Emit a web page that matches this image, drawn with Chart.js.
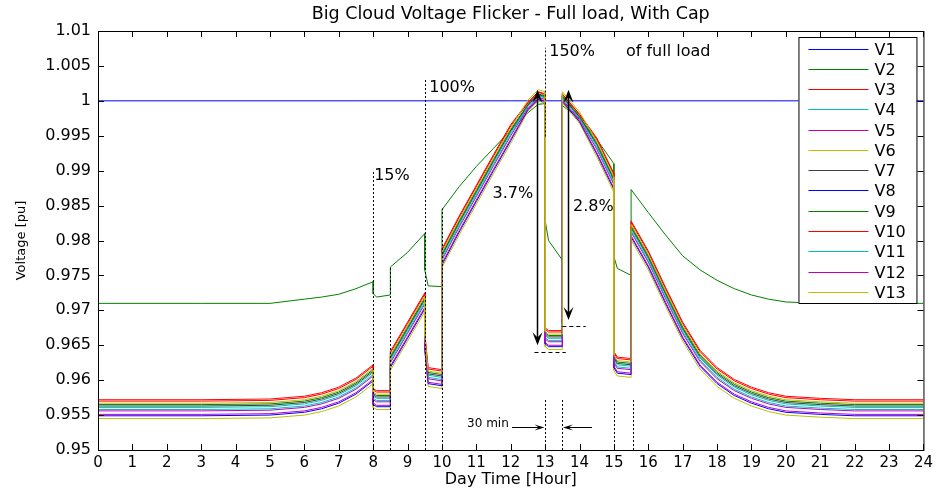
<!DOCTYPE html>
<html>
<head>
<meta charset="utf-8">
<title>Big Cloud Voltage Flicker</title>
<script src="https://cdn.jsdelivr.net/npm/chart.js@4.4.1/dist/chart.umd.min.js"></script>
<style>
  html, body { margin: 0; padding: 0; background: #fff; }
  #wrap { width: 937px; height: 492px; }
</style>
</head>
<body>
<div id="wrap"><canvas id="flicker" width="937" height="492"></canvas></div>
<script>
// hours shared by V2..V13 (a repeated hour is a step at a cloud edge)
const hours = [
  0, 3, 5, 6, 6.5, 7, 7.5, 8,
  8, 8.1, 8.5, 8.5, 9, 9.5, 9.5, 9.6,
  10, 10, 10.5, 11, 11.5, 12, 12.5, 12.8,
  13, 13, 13.1, 13.5, 13.5, 14, 14.5, 15,
  15, 15.1, 15.5, 15.5, 16, 16.5, 17, 17.5,
  18, 18.5, 19, 19.5, 20, 21, 22, 24
];

// V1 is the source bus, flat at 1 pu
const v1Hours = [0, 24];
const v1 = [1.0, 1.0];

const v2 = [
  0.9710, 0.9710, 0.9710, 0.9716, 0.9719, 0.9723, 0.9731, 0.9741,
  0.9724, 0.9719, 0.9722, 0.9762, 0.9783, 0.9810, 0.9758, 0.9735,
  0.9734, 0.9844, 0.9877, 0.9906, 0.9932, 0.9958, 0.9983, 0.9995,
  0.9996, 0.9829, 0.9800, 0.9772, 0.9993, 0.9975, 0.9945, 0.9910,
  0.9777, 0.9760, 0.9750, 0.9873, 0.9840, 0.9808, 0.9778, 0.9758,
  0.9743, 0.9731, 0.9722, 0.9716, 0.9712, 0.9710, 0.9710, 0.9710
];
const v3 = [
  0.9572, 0.9572, 0.9573, 0.9577, 0.9582, 0.9590, 0.9603, 0.9622,
  0.9588, 0.9585, 0.9585, 0.9641, 0.9683, 0.9725, 0.9668, 0.9618,
  0.9615, 0.9788, 0.9835, 0.9879, 0.9923, 0.9966, 0.9998, 1.0013,
  1.0010, 0.9675, 0.9671, 0.9671, 1.0010, 0.9981, 0.9947, 0.9896,
  0.9641, 0.9633, 0.9631, 0.9828, 0.9785, 0.9733, 0.9683, 0.9643,
  0.9618, 0.9601, 0.9590, 0.9582, 0.9577, 0.9574, 0.9572, 0.9572
];
const v4 = [
  0.9561, 0.9561, 0.9562, 0.9566, 0.9571, 0.9579, 0.9592, 0.9611,
  0.9577, 0.9574, 0.9574, 0.9630, 0.9672, 0.9714, 0.9657, 0.9607,
  0.9604, 0.9777, 0.9824, 0.9868, 0.9912, 0.9955, 0.9993, 1.0008,
  1.0005, 0.9664, 0.9660, 0.9660, 1.0005, 0.9976, 0.9936, 0.9885,
  0.9630, 0.9622, 0.9620, 0.9817, 0.9774, 0.9722, 0.9672, 0.9632,
  0.9607, 0.9590, 0.9579, 0.9571, 0.9566, 0.9563, 0.9561, 0.9561
];
const v5 = [
  0.9556, 0.9556, 0.9557, 0.9561, 0.9566, 0.9574, 0.9587, 0.9606,
  0.9572, 0.9569, 0.9569, 0.9625, 0.9667, 0.9709, 0.9652, 0.9602,
  0.9599, 0.9772, 0.9819, 0.9863, 0.9907, 0.9950, 0.9990, 1.0005,
  1.0002, 0.9659, 0.9655, 0.9655, 1.0002, 0.9973, 0.9931, 0.9880,
  0.9625, 0.9617, 0.9615, 0.9812, 0.9769, 0.9717, 0.9667, 0.9627,
  0.9602, 0.9585, 0.9574, 0.9566, 0.9561, 0.9558, 0.9556, 0.9556
];
const v6 = [
  0.9545, 0.9545, 0.9546, 0.9550, 0.9555, 0.9563, 0.9576, 0.9595,
  0.9561, 0.9558, 0.9558, 0.9614, 0.9656, 0.9698, 0.9641, 0.9591,
  0.9588, 0.9761, 0.9808, 0.9852, 0.9896, 0.9939, 0.9985, 1.0000,
  0.9997, 0.9648, 0.9644, 0.9644, 0.9997, 0.9968, 0.9920, 0.9869,
  0.9614, 0.9606, 0.9604, 0.9801, 0.9758, 0.9706, 0.9656, 0.9616,
  0.9591, 0.9574, 0.9563, 0.9555, 0.9550, 0.9547, 0.9545, 0.9545
];
const v7 = [
  0.9563, 0.9563, 0.9564, 0.9568, 0.9573, 0.9581, 0.9594, 0.9613,
  0.9579, 0.9576, 0.9576, 0.9632, 0.9674, 0.9716, 0.9659, 0.9609,
  0.9606, 0.9779, 0.9826, 0.9870, 0.9914, 0.9957, 0.9994, 1.0009,
  1.0006, 0.9666, 0.9662, 0.9662, 1.0006, 0.9977, 0.9938, 0.9887,
  0.9632, 0.9624, 0.9622, 0.9819, 0.9776, 0.9724, 0.9674, 0.9634,
  0.9609, 0.9592, 0.9581, 0.9573, 0.9568, 0.9565, 0.9563, 0.9563
];
const v8 = [
  0.9549, 0.9549, 0.9550, 0.9554, 0.9559, 0.9567, 0.9580, 0.9599,
  0.9565, 0.9562, 0.9562, 0.9618, 0.9660, 0.9702, 0.9645, 0.9595,
  0.9592, 0.9765, 0.9812, 0.9856, 0.9900, 0.9943, 0.9987, 1.0002,
  0.9999, 0.9652, 0.9648, 0.9648, 0.9999, 0.9970, 0.9924, 0.9873,
  0.9618, 0.9610, 0.9608, 0.9805, 0.9762, 0.9710, 0.9660, 0.9620,
  0.9595, 0.9578, 0.9567, 0.9559, 0.9554, 0.9551, 0.9549, 0.9549
];
const v9 = [
  0.9565, 0.9565, 0.9566, 0.9570, 0.9575, 0.9583, 0.9596, 0.9615,
  0.9581, 0.9578, 0.9578, 0.9634, 0.9676, 0.9718, 0.9661, 0.9611,
  0.9608, 0.9781, 0.9828, 0.9872, 0.9916, 0.9959, 0.9995, 1.0010,
  1.0007, 0.9668, 0.9664, 0.9664, 1.0007, 0.9978, 0.9940, 0.9889,
  0.9634, 0.9626, 0.9624, 0.9821, 0.9778, 0.9726, 0.9676, 0.9636,
  0.9611, 0.9594, 0.9583, 0.9575, 0.9570, 0.9567, 0.9565, 0.9565
];
const v10 = [
  0.9570, 0.9570, 0.9571, 0.9575, 0.9580, 0.9588, 0.9601, 0.9620,
  0.9586, 0.9583, 0.9583, 0.9639, 0.9681, 0.9723, 0.9666, 0.9616,
  0.9613, 0.9786, 0.9833, 0.9877, 0.9921, 0.9964, 0.9997, 1.0012,
  1.0009, 0.9673, 0.9669, 0.9669, 1.0009, 0.9980, 0.9945, 0.9894,
  0.9639, 0.9631, 0.9629, 0.9826, 0.9783, 0.9731, 0.9681, 0.9641,
  0.9616, 0.9599, 0.9588, 0.9580, 0.9575, 0.9572, 0.9570, 0.9570
];
const v11 = [
  0.9558, 0.9558, 0.9559, 0.9563, 0.9568, 0.9576, 0.9589, 0.9608,
  0.9574, 0.9571, 0.9571, 0.9627, 0.9669, 0.9711, 0.9654, 0.9604,
  0.9601, 0.9774, 0.9821, 0.9865, 0.9909, 0.9952, 0.9992, 1.0007,
  1.0004, 0.9661, 0.9657, 0.9657, 1.0004, 0.9975, 0.9933, 0.9882,
  0.9627, 0.9619, 0.9617, 0.9814, 0.9771, 0.9719, 0.9669, 0.9629,
  0.9604, 0.9587, 0.9576, 0.9568, 0.9563, 0.9560, 0.9558, 0.9558
];
const v12 = [
  0.9551, 0.9551, 0.9552, 0.9556, 0.9561, 0.9569, 0.9582, 0.9601,
  0.9567, 0.9564, 0.9564, 0.9620, 0.9662, 0.9704, 0.9647, 0.9597,
  0.9594, 0.9767, 0.9814, 0.9858, 0.9902, 0.9945, 0.9988, 1.0003,
  1.0000, 0.9654, 0.9650, 0.9650, 1.0000, 0.9971, 0.9926, 0.9875,
  0.9620, 0.9612, 0.9610, 0.9807, 0.9764, 0.9712, 0.9662, 0.9622,
  0.9597, 0.9580, 0.9569, 0.9561, 0.9556, 0.9553, 0.9551, 0.9551
];
const v13 = [
  0.9567, 0.9567, 0.9568, 0.9572, 0.9577, 0.9585, 0.9598, 0.9617,
  0.9583, 0.9580, 0.9580, 0.9636, 0.9678, 0.9720, 0.9663, 0.9613,
  0.9610, 0.9783, 0.9830, 0.9874, 0.9918, 0.9961, 1.0001, 1.0016,
  1.0013, 0.9670, 0.9666, 0.9666, 1.0013, 0.9984, 0.9942, 0.9891,
  0.9636, 0.9628, 0.9626, 0.9823, 0.9780, 0.9728, 0.9678, 0.9638,
  0.9613, 0.9596, 0.9585, 0.9577, 0.9572, 0.9569, 0.9567, 0.9567
];

const seriesNames = ['V1', 'V2', 'V3', 'V4', 'V5', 'V6', 'V7', 'V8', 'V9', 'V10', 'V11', 'V12', 'V13'];
const seriesValues = [v1, v2, v3, v4, v5, v6, v7, v8, v9, v10, v11, v12, v13];
// old matlab colour order, repeating after seven lines
const seriesColors = ['#0000ff', '#008000', '#ff0000', '#00bfbf', '#bf00bf', '#bfbf00', '#404040',
                      '#0000ff', '#008000', '#ff0000', '#00bfbf', '#bf00bf', '#bfbf00'];

const xTickLabels = ['0', '1', '2', '3', '4', '5', '6', '7', '8', '9', '10', '11', '12',
                     '13', '14', '15', '16', '17', '18', '19', '20', '21', '22', '23', '24'];
const yTickLabels = ['0.95', '0.955', '0.96', '0.965', '0.97', '0.975', '0.98',
                     '0.985', '0.99', '0.995', '1', '1.005', '1.01'];

const chartTitle = 'Big Cloud Voltage Flicker - Full load, With Cap';

// annotations, in data units
const cloudEdges = [
  { x: 8, from: 0.95, to: 0.9900 },
  { x: 8.5, from: 0.95, to: 0.9762 },
  { x: 9.5, from: 0.95, to: 1.0030 },
  { x: 10, from: 0.95, to: 0.9846 },
  { x: 13, from: 0.9949, to: 1.0076 },
  { x: 13, from: 0.95, to: 0.9572 },
  { x: 13.5, from: 0.95, to: 0.9572 },
  { x: 15, from: 0.95, to: 0.9572 },
  { x: 15.55, from: 0.95, to: 0.9572 }
];
const dropLevels = [
  { y: 0.9641, from: 12.69, to: 13.6 },
  { y: 0.9677, from: 13.5, to: 14.18 }
];
const dropArrows = [
  { x: 12.77, from: 0.9650, to: 1.0016 },
  { x: 13.67, from: 0.9686, to: 1.0016 }
];
const spanArrows = [
  { y: 0.9533, from: 12.04, to: 12.98 },
  { y: 0.9533, from: 14.36, to: 13.52 }
];
const notes = [
  { text: '15%', x: 8.03, y: 0.9892, size: 16 },
  { text: '100%', x: 9.63, y: 1.0018, size: 16 },
  { text: '150%', x: 13.12, y: 1.0070, size: 16 },
  { text: 'of full load', x: 15.35, y: 1.0070, size: 16 },
  { text: '3.7%', x: 11.47, y: 0.9867, size: 16 },
  { text: '2.8%', x: 13.81, y: 0.9848, size: 16 },
  { text: '30 min', x: 10.73, y: 0.9537, size: 12 }
];

const FONT = "'DejaVu Sans', sans-serif";

function head(ctx, x, y, dx, dy, len, half) {
    // filled arrow head with its tip at (x, y), pointing along (dx, dy)
    const bx = x - dx * len, by = y - dy * len;
    const nx = -dy, ny = dx;
    ctx.beginPath();
    ctx.moveTo(x, y);
    ctx.lineTo(bx + nx * half - dx * 2, by + ny * half - dy * 2);
    ctx.lineTo(x - dx * len * 0.7, y - dy * len * 0.7);
    ctx.lineTo(bx - nx * half - dx * 2, by - ny * half - dy * 2);
    ctx.closePath();
    ctx.fill();
}

const matlabAxes = {
    id: 'matlabAxes',
    afterDraw(chart) {
        const { ctx, chartArea: a } = chart;
        const xs = chart.scales.x, ys = chart.scales.y;
        ctx.save();
        ctx.strokeStyle = '#000';
        ctx.fillStyle = '#000';

        // title, centred over the axes rather than the canvas
        ctx.font = '17.5px ' + FONT;
        ctx.textAlign = 'center';
        ctx.textBaseline = 'middle';
        ctx.fillText(chartTitle, (a.left + a.right) / 2, 14);

        // dotted cloud start / end markers
        ctx.lineWidth = 1;
        ctx.setLineDash([2, 2]);
        cloudEdges.forEach(m => {
            const px = Math.round(xs.getPixelForValue(m.x)) + 0.5;
            ctx.beginPath();
            ctx.moveTo(px, ys.getPixelForValue(m.from));
            ctx.lineTo(px, ys.getPixelForValue(m.to));
            ctx.stroke();
        });
        ctx.setLineDash([4, 3]);
        dropLevels.forEach(m => {
            const py = Math.round(ys.getPixelForValue(m.y)) + 0.5;
            ctx.beginPath();
            ctx.moveTo(xs.getPixelForValue(m.from), py);
            ctx.lineTo(xs.getPixelForValue(m.to), py);
            ctx.stroke();
        });
        ctx.setLineDash([]);

        // voltage drop arrows
        ctx.lineWidth = 1.5;
        dropArrows.forEach(m => {
            const px = Math.round(xs.getPixelForValue(m.x)) + 0.5;
            const y0 = ys.getPixelForValue(m.from), y1 = ys.getPixelForValue(m.to);
            ctx.beginPath();
            ctx.moveTo(px, y0 - 6);
            ctx.lineTo(px, y1 + 6);
            ctx.stroke();
            head(ctx, px, y0, 0, 1, 11, 5);
            head(ctx, px, y1, 0, -1, 11, 5);
        });

        // 30 min arrows
        ctx.lineWidth = 1;
        spanArrows.forEach(m => {
            const py = Math.round(ys.getPixelForValue(m.y)) + 0.5;
            const x0 = xs.getPixelForValue(m.from), x1 = xs.getPixelForValue(m.to);
            const dir = x1 > x0 ? 1 : -1;
            ctx.beginPath();
            ctx.moveTo(x0, py);
            ctx.lineTo(x1 - dir * 4, py);
            ctx.stroke();
            head(ctx, x1, py, dir, 0, 8, 3);
        });

        ctx.textBaseline = 'middle';
        ctx.textAlign = 'left';
        notes.forEach(n => {
            ctx.font = n.size + 'px ' + FONT;
            ctx.fillText(n.text, xs.getPixelForValue(n.x), ys.getPixelForValue(n.y));
        });

        // box with inward ticks on all four sides
        ctx.lineWidth = 1;
        ctx.strokeRect(a.left + 0.5, a.top + 0.5, a.right - a.left, a.bottom - a.top);
        ctx.beginPath();
        xs.ticks.forEach(t => {
            const px = Math.round(xs.getPixelForValue(t.value)) + 0.5;
            ctx.moveTo(px, a.bottom); ctx.lineTo(px, a.bottom - 6);
            ctx.moveTo(px, a.top); ctx.lineTo(px, a.top + 6);
        });
        ys.ticks.forEach(t => {
            const py = Math.round(ys.getPixelForValue(t.value)) + 0.5;
            ctx.moveTo(a.left, py); ctx.lineTo(a.left + 6, py);
            ctx.moveTo(a.right, py); ctx.lineTo(a.right - 6, py);
        });
        ctx.stroke();

        // legend box inside the top right corner
        const lx = a.right - 125, ly = a.top + 6, lw = 118, lh = 266;
        ctx.fillStyle = '#fff';
        ctx.fillRect(lx, ly, lw, lh);
        ctx.strokeStyle = '#000';
        ctx.strokeRect(lx + 0.5, ly + 0.5, lw, lh);
        ctx.font = '16px ' + FONT;
        seriesNames.forEach((name, i) => {
            const ry = Math.round(ly + 11.5 + i * 20.28) + 0.5;
            ctx.strokeStyle = seriesColors[i];
            ctx.lineWidth = 1;
            ctx.beginPath();
            ctx.moveTo(lx + 10, ry);
            ctx.lineTo(lx + 70, ry);
            ctx.stroke();
            ctx.fillStyle = '#000';
            ctx.fillText(name, lx + 76, ry + 1);
        });
        ctx.restore();
    }
};

const datasets = seriesNames.map((name, i) => {
    const xs = i === 0 ? v1Hours : hours;
    return {
        label: name,
        data: xs.map((h, k) => ({ x: h, y: seriesValues[i][k] })),
        borderColor: seriesColors[i],
        backgroundColor: seriesColors[i],
        borderWidth: 1,
        pointRadius: 0,
        tension: 0,
        // later buses drawn on top, like matlab
        order: seriesNames.length - 1 - i
    };
});

new Chart(document.getElementById('flicker'), {
    type: 'line',
    data: { datasets },
    options: {
        responsive: false,
        animation: false,
        events: [],
        layout: { padding: { left: 0, right: 12, top: 31, bottom: 0 } },
        plugins: {
            legend: { display: false },
            tooltip: { enabled: false },
            title: { display: false }
        },
        scales: {
            x: {
                type: 'linear',
                min: 0,
                max: 24,
                afterFit: s => { s.height = 42; },
                grid: { display: false, drawTicks: false },
                border: { display: false },
                ticks: {
                    stepSize: 1,
                    autoSkip: false,
                    maxRotation: 0,
                    padding: 4,
                    color: '#000',
                    font: { family: FONT, size: 15 },
                    callback: (v, i) => xTickLabels[i]
                },
                title: {
                    display: true,
                    text: 'Day Time [Hour]',
                    color: '#000',
                    font: { family: FONT, size: 16 },
                    padding: { top: 0, bottom: 2.4 }
                }
            },
            y: {
                type: 'linear',
                min: 0.95,
                max: 1.01,
                afterFit: s => { s.width = 98; },
                grid: { display: false, drawTicks: false },
                border: { display: false },
                ticks: {
                    stepSize: 0.005,
                    padding: 7,
                    color: '#000',
                    font: { family: FONT, size: 16 },
                    callback: (v, i) => yTickLabels[i]
                },
                title: {
                    display: true,
                    text: 'Voltage [pu]',
                    color: '#000',
                    font: { family: FONT, size: 13 },
                    padding: { top: 14, bottom: 0 }
                }
            }
        }
    },
    plugins: [matlabAxes]
});
</script>
</body>
</html>
